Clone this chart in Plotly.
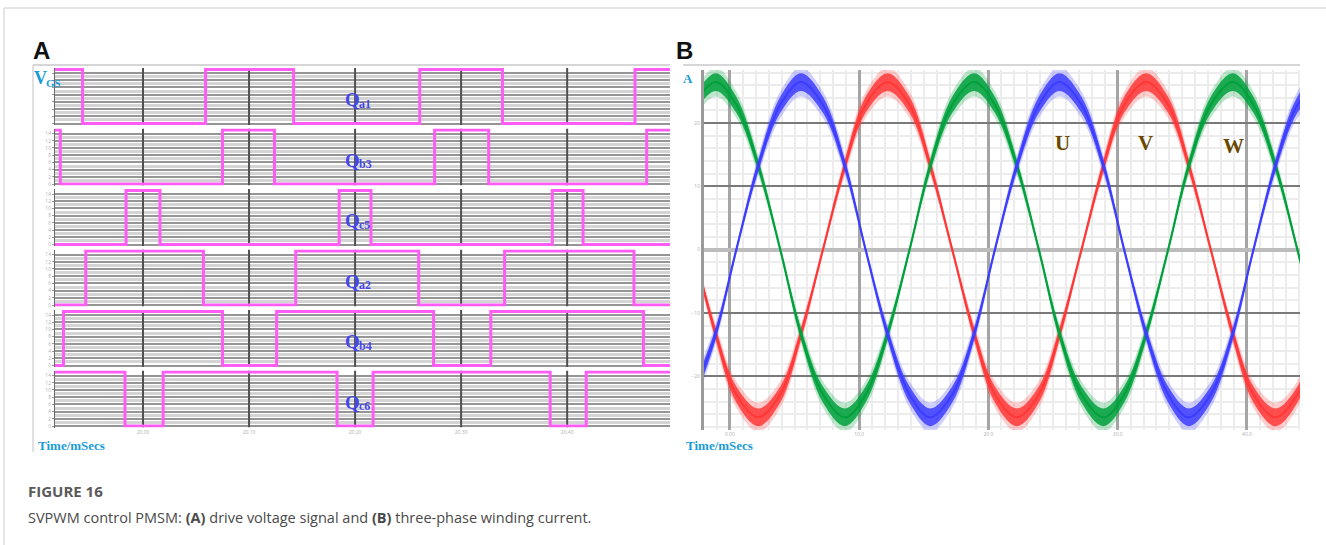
import plotly.graph_objects as go

W, H = 1326, 545


def fx(px):
    return px / W


def fy(py):
    return 1 - py / H


# ---------------- Panel A data (gate drive signals) ----------------
gate_names = ["Q", "Q", "Q", "Q", "Q", "Q"]
gate_subs = ["a1", "b3", "c5", "a2", "b4", "c6"]
gate_start_high = [True, True, False, False, False, True]
qa1_edges = [0.43, 1.59, 2.42, 3.61, 4.39, 5.64]
qb3_edges = [0.22, 1.75, 2.24, 3.75, 4.26, 5.75]
qc5_edges = [0.84, 1.16, 2.85, 3.15, 4.86, 5.15]
qa2_edges = [0.46, 1.57, 2.44, 3.60, 4.41, 5.63]
qb4_edges = [0.25, 1.75, 2.26, 3.74, 4.28, 5.72]
qc6_edges = [0.83, 1.19, 2.83, 3.17, 4.84, 5.18]
gate_edges = [qa1_edges, qb3_edges, qc5_edges, qa2_edges, qb4_edges, qc6_edges]
vgs_low, vgs_high = 0, 15
time_a_start, time_a_end = 0.17, 5.97
time_a_ticks = [1, 2, 3, 4, 5]
time_a_ticktext = ["20.00", "20.10", "20.20", "20.30", "20.40"]
vgs_ticks = [0, 2, 4, 6, 8, 10, 12, 14]
vgs_range = [-0.4, 15.4]

# ---------------- Panel B data (three-phase currents, A) ----------------
t_b = [0.72, 0.89, 1.05, 1.22, 1.39, 1.55, 1.72, 1.89, 2.05, 2.22,
       2.39, 2.55, 2.72, 2.89, 3.05, 3.22, 3.39, 3.55, 3.72, 3.89,
       4.05, 4.22, 4.39, 4.55, 4.72, 4.89, 5.05, 5.22, 5.39, 5.55]
i_green = [22.9, 26.5, 22.9, 13.3, 0, -13.3, -22.9, -26.5, -22.9, -13.3,
           0, 13.3, 22.9, 26.5, 22.9, 13.3, 0, -13.3, -22.9, -26.5,
           -22.9, -13.3, 0, 13.3, 22.9, 26.5, 22.9, 13.3, 0, -13.3]
i_blue = [-22.9, -13.3, 0, 13.3, 22.9, 26.5, 22.9, 13.3, 0, -13.3,
          -22.9, -26.5, -22.9, -13.3, 0, 13.3, 22.9, 26.5, 22.9, 13.3,
          0, -13.3, -22.9, -26.5, -22.9, -13.3, 0, 13.3, 22.9, 26.5]
i_red = [0, -13.3, -22.9, -26.5, -22.9, -13.3, 0, 13.3, 22.9, 26.5,
         22.9, 13.3, 0, -13.3, -22.9, -26.5, -22.9, -13.3, 0, 13.3,
         22.9, 26.5, 22.9, 13.3, 0, -13.3, -22.9, -26.5, -22.9, -13.3]
i_peak = 26.5
ripple_inner = (0.45, 0.95)   # (at zero crossing, extra at peak), A
ripple_outer = (0.8, 1.5)
time_b_ticks = [1, 2, 3, 4, 5]
time_b_ticktext = ["0.00", "10.0", "20.0", "30.0", "40.0"]
cur_ticks = [-20, -10, 0, 10, 20]
phase_labels = ["U", "V", "W"]

# ---------------- styles ----------------
MAGENTA = "#ff5cf5"
CYAN = "#1a9bd7"
QBLUE = "#4646ee"
BROWN = "#6a4800"
SERIF = "Liberation Serif"

fig = go.Figure()

row_top0, row_pitch, row_h = 68.0, 60.5, 57.0
layout_axes = {}
shapes = []
ann = []

for i in range(6):
    yname = "y" if i == 0 else f"y{i+1}"
    vx, vy = [], []
    for tv in time_a_ticks:
        vx += [tv, tv, None]
        vy += [vgs_range[0], vgs_range[1], None]
    fig.add_trace(go.Scatter(x=vx, y=vy, mode="lines",
                             line=dict(color="#505050", width=2),
                             xaxis="x", yaxis=yname, hoverinfo="skip",
                             showlegend=False))
    edges = gate_edges[i]
    state = gate_start_high[i]
    xs = [time_a_start]
    ys = [vgs_high if state else vgs_low]
    for e in edges:
        state = not state
        xs.append(e)
        ys.append(vgs_high if state else vgs_low)
    xs.append(time_a_end)
    ys.append(ys[-1])
    fig.add_trace(go.Scatter(x=xs, y=ys, mode="lines", line_shape="hv",
                             line=dict(color=MAGENTA, width=3),
                             xaxis="x", yaxis=yname, hoverinfo="skip",
                             showlegend=False))
    top = row_top0 + i * row_pitch
    bot = top + row_h
    key = "yaxis" if i == 0 else f"yaxis{i+1}"
    layout_axes[key] = dict(
        domain=[fy(bot), fy(top)], anchor="x", range=vgs_range,
        tickvals=vgs_ticks, showgrid=True, gridcolor="#959595", gridwidth=2,
        minor=dict(tickvals=[1, 3, 5, 7, 9, 11, 13], showgrid=True,
                   gridcolor="#d4d4d4", gridwidth=3),
        zeroline=False, showline=True, linecolor="#6a6a6a", linewidth=1,
        ticks="outside", ticklen=2, tickcolor="#999",
        showticklabels=(i != 0),
        tickfont=dict(size=5, color="#b0b0b0"), fixedrange=True)
    cy = top + row_h / 2 + 3
    ann.append(dict(x=fx(343), y=fy(cy), text=f"<b>{gate_names[i]}</b>",
                    xanchor="left",
                    font=dict(family=SERIF, size=19, color=QBLUE)))
    ann.append(dict(x=fx(357), y=fy(cy + 4), text=f"<b>{gate_subs[i]}</b>",
                    xanchor="left",
                    font=dict(family=SERIF, size=12, color=QBLUE)))

layout_axes["xaxis"] = dict(
    domain=[fx(55), fx(670)], anchor="y6", range=[time_a_start, time_a_end],
    tickvals=time_a_ticks, ticktext=time_a_ticktext, showgrid=False,
    zeroline=False, ticks="", tickfont=dict(size=5, color="#b0b0b0"),
    fixedrange=True)

# Panel B traces
phase_data = [(i_red, "255,55,55"), (i_green, "0,160,60"),
              (i_blue, "60,60,255")]
for vals, rgb in phase_data:
    for (r0, r1), alpha in [(ripple_outer, 0.25), (ripple_inner, 0.85)]:
        up = [v + r0 + r1 * abs(v) / i_peak for v in vals]
        lo = [v - r0 - r1 * abs(v) / i_peak for v in vals]
        fig.add_trace(go.Scatter(x=t_b + t_b[::-1], y=up + lo[::-1],
                                 mode="lines", fill="toself",
                                 line=dict(width=0, shape="spline"),
                                 fillcolor=f"rgba({rgb},{alpha})",
                                 xaxis="x2", yaxis="y7", hoverinfo="skip",
                                 showlegend=False))
    fig.add_trace(go.Scatter(x=t_b, y=vals, mode="lines",
                             line=dict(width=2, shape="spline",
                                       color=f"rgb({rgb})"),
                             xaxis="x2", yaxis="y7", hoverinfo="skip",
                             showlegend=False))

layout_axes["xaxis2"] = dict(
    domain=[fx(704), fx(1300)], anchor="y7", range=[0.8, 5.41],
    tickvals=time_b_ticks, ticktext=time_b_ticktext, showgrid=True,
    gridcolor="#a5a5a5", gridwidth=3,
    minor=dict(dtick=0.1, showgrid=True, gridcolor="#ececec", gridwidth=2),
    zeroline=False, ticks="", tickfont=dict(size=5, color="#b0b0b0"),
    fixedrange=True)
layout_axes["yaxis7"] = dict(
    domain=[fy(430), fy(70)], anchor="x2", range=[-28.5, 28.4],
    tickvals=cur_ticks, showgrid=True, gridcolor="#7a7a7a", gridwidth=2,
    minor=dict(dtick=2, showgrid=True, gridcolor="#ececec", gridwidth=2),
    zeroline=True, zerolinecolor="#bcbcbc", zerolinewidth=4,
    showline=True, linecolor="#9a9a9a", linewidth=3, ticks="",
    tickfont=dict(size=5, color="#b0b0b0"), fixedrange=True)

# frames
line_grey = dict(color="#dcdcdc", width=1.5)
shapes += [
    dict(type="line", xref="paper", yref="paper", x0=fx(4), x1=1,
         y0=fy(8), y1=fy(8), line=line_grey),
    dict(type="line", xref="paper", yref="paper", x0=fx(4), x1=fx(4),
         y0=fy(8), y1=0, line=line_grey),
    dict(type="line", xref="paper", yref="paper", x0=fx(33), x1=fx(670),
         y0=fy(65), y1=fy(65), line=dict(color="#d6d6d6", width=2)),
    dict(type="line", xref="paper", yref="paper", x0=fx(33), x1=fx(33),
         y0=fy(65), y1=fy(452), line=dict(color="#d6d6d6", width=1.5)),
    dict(type="line", xref="paper", yref="paper", x0=fx(683), x1=fx(1300),
         y0=fy(65), y1=fy(65), line=dict(color="#d6d6d6", width=2)),
]

ann += [
    dict(x=fx(31), y=fy(50), text="<b>A</b>", xanchor="left",
         font=dict(family="Liberation Sans", size=24, color="#111")),
    dict(x=fx(674), y=fy(50), text="<b>B</b>", xanchor="left",
         font=dict(family="Liberation Sans", size=24, color="#111")),
    dict(x=fx(32), y=fy(78), text="<b>V</b>", xanchor="left",
         font=dict(family=SERIF, size=18, color=CYAN)),
    dict(x=fx(44), y=fy(83), text="<b>GS</b>", xanchor="left",
         font=dict(family=SERIF, size=11, color=CYAN)),
    dict(x=fx(36), y=fy(445), text="<b>Time/mSecs</b>", xanchor="left",
         font=dict(family=SERIF, size=13, color=CYAN)),
    dict(x=fx(684), y=fy(445), text="<b>Time/mSecs</b>", xanchor="left",
         font=dict(family=SERIF, size=13, color=CYAN)),
    dict(x=fx(688), y=fy(78), text="<b>A</b>", xanchor="center",
         font=dict(family=SERIF, size=13, color=CYAN)),
    dict(x=fx(1062), y=fy(143), text=f"<b>{phase_labels[0]}</b>",
         xanchor="center", font=dict(family=SERIF, size=21, color=BROWN)),
    dict(x=fx(1145), y=fy(143), text=f"<b>{phase_labels[1]}</b>",
         xanchor="center", font=dict(family=SERIF, size=21, color=BROWN)),
    dict(x=fx(1233), y=fy(146), text=f"<b>{phase_labels[2]}</b>",
         xanchor="center", font=dict(family=SERIF, size=21, color=BROWN)),
    dict(x=fx(26), y=fy(491), text="<b>FIGURE 16</b>", xanchor="left",
         font=dict(family="Open Sans", size=15, color="#5a5a5a")),
    dict(x=fx(26), y=fy(517),
         text="SVPWM control PMSM: <b>(A)</b> drive voltage signal and "
              "<b>(B)</b> three-phase winding current.",
         xanchor="left", font=dict(family="Open Sans", size=14.5,
                                   color="#4a4a4a")),
]
for a in ann:
    a.update(xref="paper", yref="paper", showarrow=False,
             yanchor="middle")
    fig.add_annotation(**a)

fig.update_layout(width=W, height=H, autosize=False,
                  margin=dict(l=0, r=0, t=0, b=0),
                  paper_bgcolor="white", plot_bgcolor="white",
                  shapes=shapes, showlegend=False, **layout_axes)

fig.write_html("out.html", config={"displayModeBar": False},
               post_script="document.body.style.margin='0';"
                           "document.body.style.overflow='hidden';")
